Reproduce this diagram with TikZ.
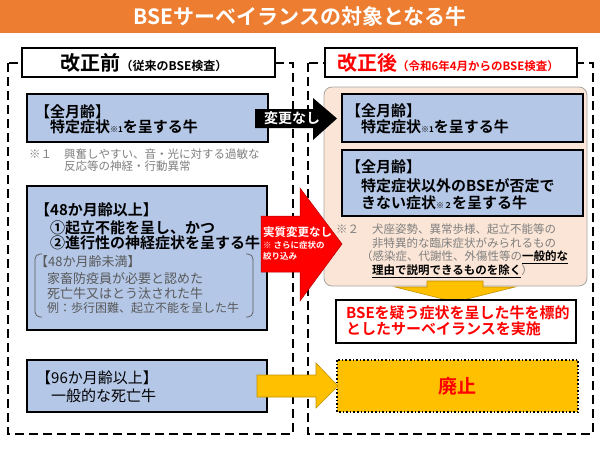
\documentclass[tikz,border=0pt]{standalone}
\usepackage{fontspec}
\setmainfont{Noto Sans CJK JP}[BoldFont={Noto Sans CJK JP Bold}]

\definecolor{titleorange}{HTML}{ED7D31}
\definecolor{boxblue}{HTML}{B4C7E7}
\definecolor{peach}{HTML}{FBE5D6}
\definecolor{peachline}{HTML}{A6A6A6}
\definecolor{arrowgold}{HTML}{FFC000}
\definecolor{goldline}{HTML}{BF9000}
\definecolor{notegray}{HTML}{7F7F7F}
\definecolor{subgray}{HTML}{595959}
\definecolor{alertred}{HTML}{FF0000}

\newcommand{\fs}[1]{\fontsize{#1}{#1}\selectfont}

\begin{document}
\begin{tikzpicture}[x=1pt,y=-1pt,
  bluebox/.style={draw=black,line width=1.6pt,fill=boxblue},
  dashbox/.style={draw=black,line width=1.3pt,dash pattern=on 9pt off 5pt},
  labelbox/.style={draw=black,line width=1.6pt,fill=white},
  txt/.style={anchor=west,inner sep=0pt},
  boxtxt/.style={txt,font=\bfseries\fs{15}},
  notetxt/.style={txt,font=\fs{11.5},text=notegray},
  subtxt/.style={txt,font=\fs{13},text=subgray},
  goldarrow/.style={fill=arrowgold,draw=goldline,line width=0.6pt}]

\useasboundingbox (0,0) rectangle (600,450);

% Titre
\fill[titleorange] (0,0) rectangle (600,33);
\node[font=\bfseries\fs{21},text=white] (title) at (300,17) {BSEサーベイランスの対象となる牛};

% Cadres en pointillés
\draw[dashbox] (8,63) rectangle (293,434);
\draw[dashbox] (308,63) rectangle (593,434);

% Etiquettes
\draw[labelbox] (22,48) rectangle (275,77);
\node[inner sep=0pt] (before) at (144,63) {{\bfseries\fs{20}改正前}{\bfseries\fs{12}（従来のBSE検査）}};
\draw[labelbox] (325,48) rectangle (577,77);
\node[inner sep=0pt,text=alertred] (after) at (448,63) {{\bfseries\fs{20}改正後}{\bfseries\fs{11.5}（令和6年4月からのBSE検査）}};

% Avant : tous ages
\draw[bluebox] (27,94) rectangle (268,142);
\node[boxtxt] (b1a) at (35,112) {【全月齢】};
\node[boxtxt] (b1b) at (35,127) {　特定症状{\fs{8}※1}を呈する牛};
\node[notetxt] (n1) at (29,154) {※１};
\node[notetxt] (n1a) at (64,154) {興奮しやすい、音・光に対する過敏な};
\node[notetxt] (n1b) at (64,166) {反応等の神経・行動異常};

% Avant : 48 mois et plus
\draw[bluebox] (27,186) rectangle (267,330);
\node[boxtxt] (b2a) at (35,210) {【48か月齢以上】};
\node[boxtxt] (b2b) at (35,228) {　①起立不能を呈し、かつ};
\node[boxtxt] (b2c) at (35,243) {　②進行性の神経症状を呈する牛};
\draw[subgray,line width=0.7pt,rounded corners=5pt] (42,254) -- (35,254) -- (35,317) -- (42,317);
\draw[subgray,line width=0.7pt,rounded corners=5pt] (246,254) -- (253,254) -- (253,317) -- (246,317);
\node[subtxt] (s1) at (35,262) {【48か月齢未満】};
\node[subtxt] (s2) at (47,279) {家畜防疫員が必要と認めた};
\node[subtxt] (s3) at (47,294) {死亡牛又はとう汰された牛};
\node[subtxt,font=\fs{12}] (s4) at (47,308) {例：歩行困難、起立不能を呈した牛};

% Avant : 96 mois et plus
\draw[bluebox] (27,360) rectangle (267,412);
\node[boxtxt,font=\fs{15}] (b3a) at (36,378) {【96か月齢以上】};
\node[boxtxt,font=\fs{15}] (b3b) at (36,396) {　一般的な死亡牛};

% Apres
\draw[peachline,fill=peach,line width=0.8pt,rounded corners=8pt] (324,87) rectangle (587,286);
\draw[bluebox] (342,94) rectangle (583,142);
\node[boxtxt] (r1a) at (346,111) {【全月齢】};
\node[boxtxt] (r1b) at (346,127) {　特定症状{\fs{8}※1}を呈する牛};
\draw[bluebox] (342,150) rectangle (583,216);
\node[boxtxt] (r2a) at (346,167) {【全月齢】};
\node[boxtxt] (r2b) at (346,186) {　特定症状以外のBSEが否定で};
\node[boxtxt] (r2c) at (346,203) {　きない症状{\fs{8}※２}を呈する牛};
\node[notetxt] (n2) at (336,229) {※２};
\node[notetxt] (n2a) at (372,229) {犬座姿勢、異常歩様、起立不能等の};
\node[notetxt] (n2b) at (372,243) {非特異的な臨床症状がみられるもの};
\node[notetxt] (n2c) at (361,257) {（感染症、代謝性、外傷性等の{\color{black}\bfseries\underline{一般的な}}};
\node[notetxt] (n2d) at (372,271) {{\color{black}\bfseries\underline{理由で説明できるものを除く}}）};

% Fleche vers le bas
\draw[goldarrow] (427,281) -- (483,281) -- (483,287) -- (515,287) -- (455,302) -- (395,287) -- (427,287) -- cycle;
\draw[black,line width=1.6pt,fill=white] (336,300) rectangle (576,343);
\node[txt,font=\bfseries\fs{15},text=alertred] (t1) at (346,313) {BSEを疑う症状を呈した牛を標的};
\node[txt,font=\bfseries\fs{15},text=alertred] (t2) at (346,329) {としたサーベイランスを実施};

% Abolition
\draw[fill=arrowgold,line width=1.6pt,dotted] (337,360) rectangle (578,412);
\node[font=\bfseries\fs{19},text=alertred] (stop) at (457,386) {廃止};

% Fleches
\fill[black] (255,109) -- (313,109) -- (313,98) -- (337,118.5) -- (313,140) -- (313,128) -- (255,128) -- cycle;
\node[font=\bfseries\fs{14},text=white] (same) at (292,118.5) {変更なし};

\draw[fill=alertred,draw=red!70!black,line width=0.5pt] (261,216) -- (300,216) -- (300,188) -- (342,244) -- (300,301) -- (300,272) -- (261,272) -- cycle;
\node[txt,font=\bfseries\fs{11.5},text=white] (red1) at (263,232) {実質変更なし};
\node[txt,font=\bfseries\fs{8.5},text=white] (red2) at (263,245) {※ さらに症状の};
\node[txt,font=\bfseries\fs{8.5},text=white] (red3) at (263,256) {絞り込み};

\draw[goldarrow] (257,375) -- (316,375) -- (316,363) -- (338,386) -- (316,408) -- (316,397) -- (257,397) -- cycle;

\end{tikzpicture}
\end{document}
